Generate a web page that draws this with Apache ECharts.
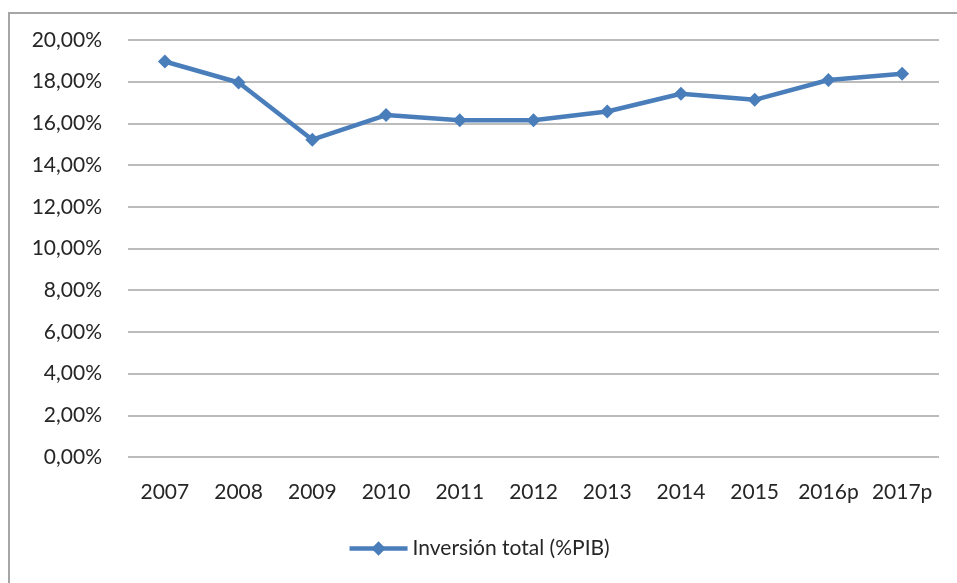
<!DOCTYPE html>
<html>
<head>
<meta charset="utf-8">
<script src="https://cdn.jsdelivr.net/npm/echarts@6/dist/echarts.min.js"></script>
<style>
    html, body { margin: 0; padding: 0; background: #fff; overflow: hidden; }
    #frame {
        position: absolute; left: 8px; top: 12px;
        width: 1000px; height: 700px;
        border: 2px solid #a6a6a6; box-sizing: border-box;
    }
    #chart { position: absolute; left: 0; top: 0; width: 957px; height: 583px; }
</style>
</head>
<body>
<div id="frame"></div>
<div id="chart"></div>
<script>
// años (p = provisional)
const years = ['2007', '2008', '2009', '2010', '2011', '2012', '2013', '2014', '2015', '2016p', '2017p']
// inversión total, % del PIB
const inversion = [18.97, 17.96, 15.22, 16.40, 16.15, 16.15, 16.57, 17.42, 17.13, 18.08, 18.38]
const seriesName = 'Inversión total (%PIB)'

const chart = echarts.init(document.getElementById('chart'))
const font = 'Lato'
const txt = '#262626'

chart.setOption({
    animation: false,
    grid: { left: 128, right: 18, top: 40, bottom: 126 },
    xAxis: {
        type: 'category',
        data: years,
        axisLine: { show: false },
        axisTick: { show: false },
        axisLabel: { color: txt, fontFamily: font, fontSize: 21, margin: 25, interval: 0 }
    },
    yAxis: {
        type: 'value',
        min: 0,
        max: 20,
        interval: 2,
        axisLine: { show: false },
        axisTick: { show: false },
        splitLine: { lineStyle: { color: '#a6a6a6', width: 1.5 } },
        axisLabel: {
            color: txt, fontFamily: font, fontSize: 21, margin: 26,
            formatter: v => v.toFixed(2).replace('.', ',') + '%'
        }
    },
    legend: {
        bottom: 19,
        left: 'center',
        itemWidth: 58,
        itemHeight: 18,
        itemGap: 4,
        lineStyle: { width: 4.5 },
        textStyle: { color: txt, fontFamily: font, fontSize: 21 },
        data: [seriesName]
    },
    series: [{
        name: seriesName,
        type: 'line',
        data: inversion,
        symbol: 'diamond',
        symbolSize: 14,
        lineStyle: { color: '#4a7ebb', width: 4.5 },
        itemStyle: { color: '#4a7ebb' }
    }]
})
</script>
</body>
</html>
